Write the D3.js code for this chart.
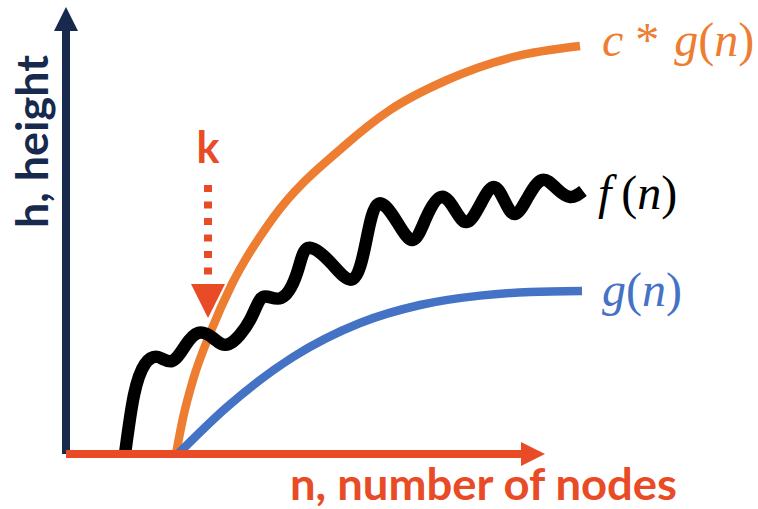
<!DOCTYPE html>
<html>
<head>
<meta charset="utf-8">
<script src="https://cdn.jsdelivr.net/npm/d3@7"></script>
<style>
  html, body { margin: 0; padding: 0; background: #ffffff; }
  svg { display: block; }
</style>
</head>
<body>
<script>
// ---------- data (n = number of nodes, h = height; arbitrary units) ----------
const cgN = [27.5, 29.25, 31.75, 36.25, 41.5, 51.75, 69.25, 81, 95.25, 111.75, 128.5];
const cgH = [0, 9, 18.5, 30.75, 42.5, 59, 76.75, 86, 93.5, 99.25, 102];

const gN = [28, 40.25, 56.75, 73.5, 88.5, 103.5, 116, 129];
const gH = [0, 11.75, 24.25, 32.75, 37.25, 39.6, 40.5, 40.75];

const fN = [14.75, 17, 19.75, 23, 26.5, 29.75, 33, 36.75, 40.75,
            46, 49.25, 53.75, 57.75, 60.5, 66.25, 71.75,
            75, 78, 82.75, 86.75, 90, 93.75, 97.25, 100.25,
            103.5, 106.75, 109.5, 112.25, 115.5, 119, 122.5, 126, 129.25];
const fH = [0, 14.75, 22.5, 24.25, 23.25, 27, 30.25, 29, 27.5,
            33.5, 39.25, 39, 45.25, 51.5, 47.75, 43.75,
            53, 62.5, 58, 53.5, 59, 64.25, 61, 58,
            62.25, 66.75, 63.5, 60, 64.25, 68.5, 66.5, 64.25, 65.75];

const kN = 35.5;             // the point k on the n axis
const kArrowH = [67.25, 34]; // arrow from h (top) down to h (tip)

const xAxisMax = 119.75;
const yAxisMax = 111.75;

const xTitle = "n, number of nodes";
const yTitle = "h, height";
const kLabel = "k";

// ---------- setup ----------
const W = 758, H = 509;
const C = { navy: "#17294d", red: "#e84b26", orange: "#ed7d31", blue: "#4472c4", black: "#000000" };

const svg = d3.select("body").append("svg").attr("width", W).attr("height", H);
svg.append("rect").attr("width", W).attr("height", H).attr("fill", "#fff");

const x = d3.scaleLinear().domain([0, 130]).range([66, 586]);
const y = d3.scaleLinear().domain([0, 112]).range([454, 6]);

const zip = (a, b) => a.map((v, i) => [v, b[i]]);

// ---------- curves ----------
const mono = d3.line().x(d => x(d[0])).y(d => y(d[1])).curve(d3.curveMonotoneX);
const wavy = d3.line().x(d => x(d[0])).y(d => y(d[1])).curve(d3.curveNatural);

svg.append("path").attr("d", mono(zip(cgN, cgH)))
  .attr("fill", "none").attr("stroke", C.orange).attr("stroke-width", 8.5);
svg.append("path").attr("d", mono(zip(gN, gH)))
  .attr("fill", "none").attr("stroke", C.blue).attr("stroke-width", 8.5);
svg.append("path").attr("d", wavy(zip(fN, fH)))
  .attr("fill", "none").attr("stroke", C.black).attr("stroke-width", 12.5)
  .attr("stroke-linejoin", "round").attr("stroke-linecap", "butt");

// ---------- axes ----------
const headLen = 24, headHalf = 12;
// y axis (navy)
svg.append("line")
  .attr("x1", x(0)).attr("x2", x(0))
  .attr("y1", y(0)).attr("y2", y(yAxisMax) + headLen)
  .attr("stroke", C.navy).attr("stroke-width", 8);
svg.append("path")
  .attr("d", `M${x(0)},${y(yAxisMax)} L${x(0) + headHalf},${y(yAxisMax) + headLen} L${x(0) - headHalf},${y(yAxisMax) + headLen} Z`)
  .attr("fill", C.navy);
// x axis (red)
svg.append("line")
  .attr("x1", x(0)).attr("x2", x(xAxisMax) - headLen)
  .attr("y1", y(0)).attr("y2", y(0))
  .attr("stroke", C.red).attr("stroke-width", 8);
svg.append("path")
  .attr("d", `M${x(xAxisMax)},${y(0)} L${x(xAxisMax) - headLen},${y(0) - headHalf} L${x(xAxisMax) - headLen},${y(0) + headHalf} Z`)
  .attr("fill", C.red);

// ---------- k marker ----------
const kTipY = y(kArrowH[1]);
const kHead = 34;
svg.append("line")
  .attr("x1", x(kN)).attr("x2", x(kN))
  .attr("y1", y(kArrowH[0])).attr("y2", kTipY - kHead)
  .attr("stroke", C.red).attr("stroke-width", 8)
  .attr("stroke-dasharray", "7 9.5");
svg.append("path")
  .attr("d", `M${x(kN)},${kTipY} L${x(kN) - 17},${kTipY - kHead} L${x(kN) + 17},${kTipY - kHead} Z`)
  .attr("fill", C.red);
svg.append("text")
  .attr("x", x(kN)).attr("y", 163)
  .attr("text-anchor", "middle")
  .attr("font-family", "Lato, 'Open Sans', sans-serif")
  .attr("font-weight", 700).attr("font-size", 43)
  .attr("fill", C.red).text(kLabel);

// ---------- axis titles ----------
svg.append("text")
  .attr("x", 290).attr("y", 500)
  .attr("font-family", "Lato, 'Open Sans', sans-serif")
  .attr("font-weight", 700).attr("font-size", 43)
  .attr("textLength", 387).attr("lengthAdjust", "spacingAndGlyphs")
  .attr("fill", C.red).text(xTitle);
svg.append("text")
  .attr("transform", "translate(48,228) rotate(-90)")
  .attr("font-family", "Lato, 'Open Sans', sans-serif")
  .attr("font-weight", 700).attr("font-size", 43)
  .attr("textLength", 173).attr("lengthAdjust", "spacingAndGlyphs")
  .attr("fill", C.navy).text(yTitle);

// ---------- series labels (math style) ----------
function mathLabel(px, py, parts, color) {
  const t = svg.append("text").attr("x", px).attr("y", py)
    .attr("font-family", "'Liberation Serif', 'DejaVu Serif', serif")
    .attr("font-size", 48).attr("fill", color);
  parts.forEach(p => {
    const s = t.append("tspan").text(p.t).attr("font-style", p.i ? "italic" : "normal");
    if (p.dx) s.attr("dx", p.dx);
  });
}
const endOf = (n, h) => [x(n[n.length - 1]), y(h[h.length - 1])];
let e = endOf(cgN, cgH);
mathLabel(e[0] + 22, e[1] + 10, [
  { t: "c", i: true }, { t: " * ", i: false }, { t: "g", i: true, dx: 3 },
  { t: "(", i: false }, { t: "n", i: true }, { t: ")", i: false }], C.orange);
e = endOf(fN, fH);
mathLabel(e[0] + 15, e[1] + 18, [
  { t: "f", i: true }, { t: "(", i: false, dx: 10 }, { t: "n", i: true }, { t: ")", i: false }], C.black);
e = endOf(gN, gH);
mathLabel(e[0] + 20, e[1] + 15, [
  { t: "g", i: true }, { t: "(", i: false }, { t: "n", i: true }, { t: ")", i: false }], C.blue);
</script>
</body>
</html>
